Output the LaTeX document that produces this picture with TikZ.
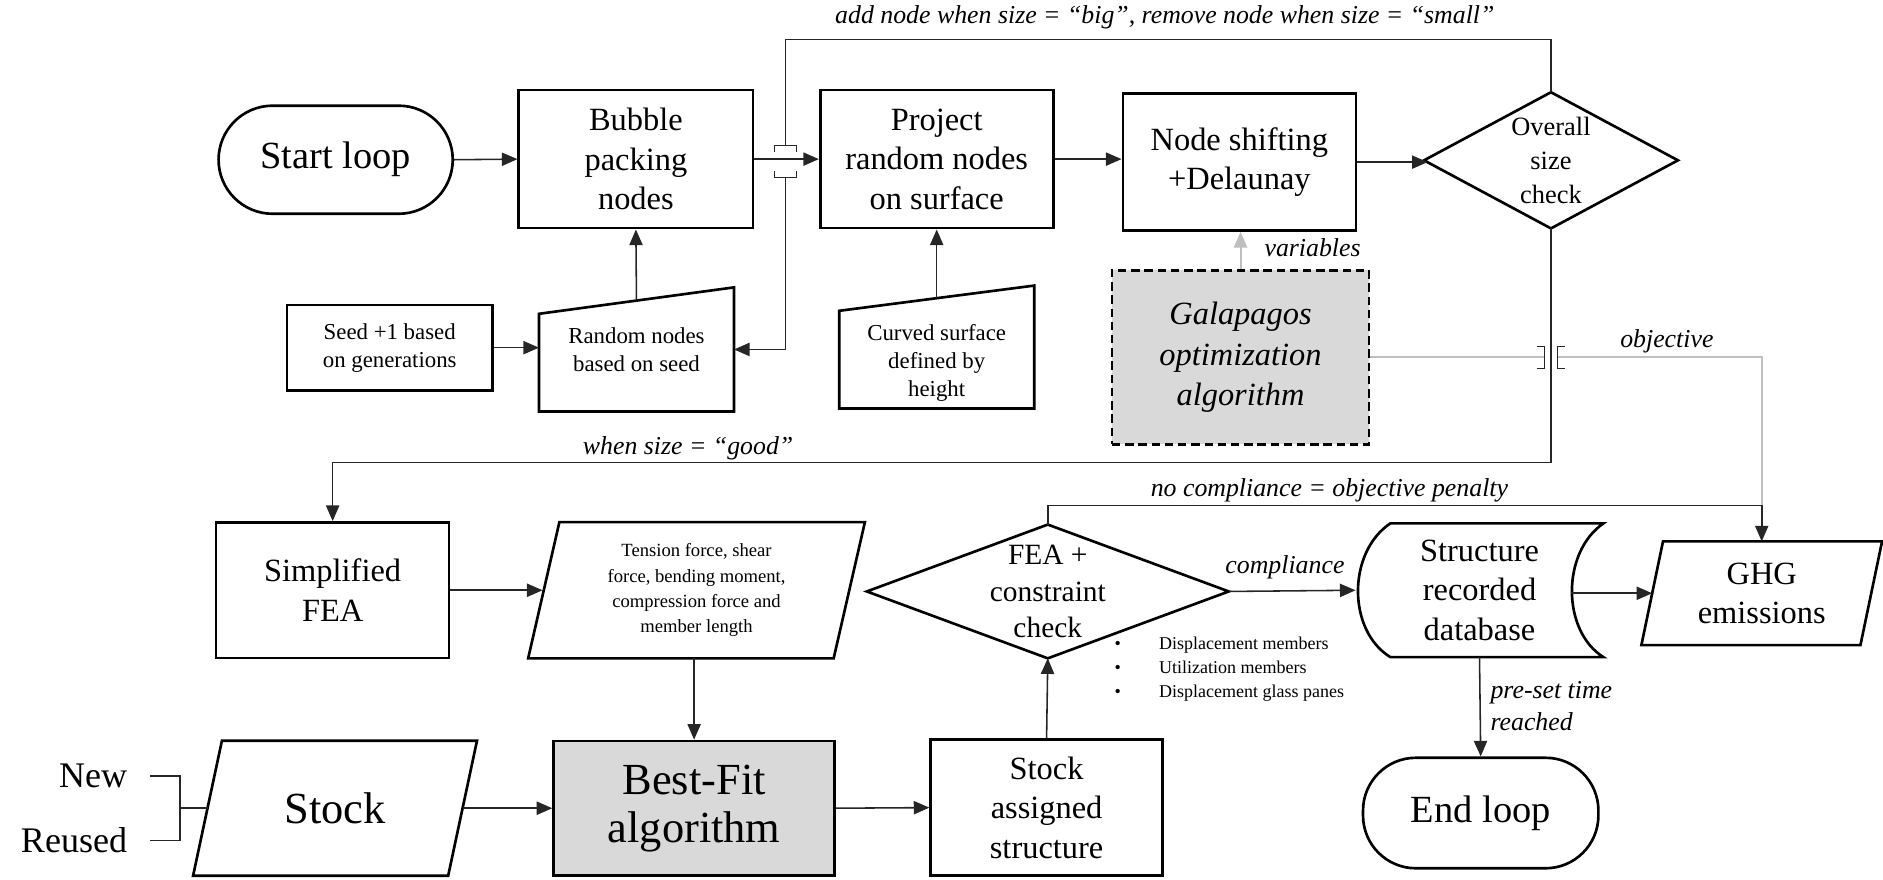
\documentclass[tikz,border=0pt]{standalone}
\usepackage{fontspec}
\setmainfont{Liberation Serif}
\usetikzlibrary{arrows.meta,calc}
\definecolor{boxgray}{HTML}{D9D9D9}
\definecolor{linegray}{HTML}{BFBFBF}
% parallelogram drawn round a named node: #1 node, #2 slant
\newcommand\paral[2]{\draw[shp] ([xshift=#2pt]#1.north west) -- (#1.north east) -- ([xshift=-#2pt]#1.south east) -- (#1.south west) -- cycle;}
\begin{document}
\begin{tikzpicture}[x=1pt,y=-1pt,
  shp/.style={draw=black, line width=2.2pt},
  box/.style={shp, align=center, inner sep=0pt},
  txt/.style={align=center, inner sep=0pt},
  con/.style={draw=black!85, line width=1.3pt},
  thin/.style={draw=black!85, line width=0.9pt},
  arr/.style={con, -{Triangle[length=13pt,width=11pt]}},
  gcon/.style={draw=linegray, line width=1.6pt},
  garr/.style={gcon, -{Triangle[length=13pt,width=11pt]}},
  fstart/.style={font=\fontsize{32}{38}\selectfont},
  fbig/.style={font=\fontsize{37}{40}\selectfont},
  fmed/.style={font=\fontsize{27}{33}\selectfont},
  fosc/.style={font=\fontsize{22}{28.5}\selectfont},
  ffea/.style={font=\fontsize{24.5}{30}\selectfont},
  fgal/.style={font=\fontsize{27}{34}\selectfont\itshape},
  fsmall/.style={font=\fontsize{19}{23.5}\selectfont},
  ften/.style={font=\fontsize{15.5}{21}\selectfont},
  fbul/.style={font=\fontsize{15}{20}\selectfont},
  fnew/.style={font=\fontsize{30}{36}\selectfont},
  lab/.style={inner sep=0pt, font=\fontsize{21.5}{26}\selectfont\itshape},
]
\useasboundingbox (0,0) rectangle (1568,732);

% ---------- upper row ----------
\node[box, rounded corners=45pt, minimum width=195pt, minimum height=90pt, fstart] (start) at (279.5,133) {Start loop};
\node[box, minimum width=195pt, minimum height=115pt, fmed] (bub) at (529.5,132.5) {Bubble\\packing\\nodes};
\node[box, minimum width=194pt, minimum height=115pt, fmed] (proj) at (780,132.5) {Project\\random nodes\\on surface};
\node[box, minimum width=194pt, minimum height=114pt, fmed] (nsh) at (1032,135) {Node shifting\\+Delaunay};
\node[txt, minimum width=211pt, minimum height=113pt, fosc] (osc) at (1291.5,133.5) {Overall\\size\\check};
\draw[shp] (osc.north) -- (osc.east) -- (osc.south) -- (osc.west) -- cycle;

% ---------- inputs ----------
\node[box, minimum width=171pt, minimum height=71pt, fsmall] (seed) at (324.5,289.5) {Seed +1 based\\on generations};
\node[txt, minimum width=162pt, minimum height=103pt, fsmall] (rnd) at (530,291) {Random nodes\\based on seed};
\draw[shp] ([yshift=-22pt]rnd.north west) -- (rnd.north east) -- (rnd.south east) -- (rnd.south west) -- cycle;
\node[txt, minimum width=162pt, minimum height=76pt, fsmall] (curv) at (780,302) {Curved surface\\defined by\\height};
\draw[shp] ([yshift=5pt]curv.north west) -- ([yshift=26pt]curv.north east) -- (curv.south east) -- (curv.south west) -- cycle;
\coordinate (curvtop) at ($(curv.north)+(0,-15.5)$);
\node[box, dash pattern=on 7pt off 4pt, fill=boxgray, minimum width=214pt, minimum height=145pt, fgal] (gal) at (1033,297.5) {Galapagos\\optimization\\algorithm};

% ---------- lower rows ----------
\node[box, minimum width=194pt, minimum height=113pt, fmed] (sfea) at (277,491.5) {Simplified\\FEA};
\node[txt, minimum width=280pt, minimum height=113pt, ften] (ten) at (580,491.5) {Tension force, shear\\force, bending moment,\\compression force and\\member length};
\paral{ten}{26}
\node[txt, minimum width=236pt, minimum height=112pt, fbig] (stock) at (279,673) {Stock};
\paral{stock}{24}
\node[box, fill=boxgray, minimum width=234pt, minimum height=112pt, fbig] (bfit) at (578,673) {Best-Fit\\algorithm};
\node[box, minimum width=193pt, minimum height=113pt, fmed] (sas) at (871.5,672.5) {Stock\\assigned\\structure};
\node[txt, minimum width=301pt, minimum height=111pt, ffea] (fea) at (872.5,492.5) {FEA +\\constraint\\check};
\draw[shp] (fea.north) -- (fea.east) -- (fea.south) -- (fea.west) -- cycle;
\node[txt, minimum width=206pt, minimum height=111pt, fmed] (db) at (1232,491.5) {Structure\\recorded\\database};
\draw[shp] ($(db.north west)+(29,0)$) -- (db.north east)
  .. controls ($(db.north east)+(-35,24)$) and ($(db.south east)+(-35,-22)$) .. (db.south east)
  -- ($(db.south west)+(29,0)$)
  .. controls ($(db.south west)+(-7,-22)$) and ($(db.north west)+(-7,24)$) .. cycle;
\node[txt, minimum width=200pt, minimum height=86pt, fmed] (ghg) at (1467,494) {GHG\\emissions};
\paral{ghg}{18}
\node[box, rounded corners=44pt, minimum width=196pt, minimum height=92pt, fstart] (endl) at (1233,677) {End loop};

% ---------- stock sources ----------
\node[txt, fnew, anchor=east] (new) at (106,646) {New};
\node[txt, fnew, anchor=east] (reused) at (106,700) {Reused};
\coordinate (brk) at (150,673);
\draw[con] ([xshift=19pt]new.east) -| (brk) |- ([xshift=19pt]reused.east);
\draw[con] (brk) -- ([xshift=12pt]stock.west);

% ---------- constraint list ----------
\node[txt, align=left, anchor=north west, fbul] (cons) at (928,530) {\makebox[37pt][l]{•}Displacement members\\\makebox[37pt][l]{•}Utilization members\\\makebox[37pt][l]{•}Displacement glass panes};

% ---------- connectors ----------
\draw[arr] (start.east) -- (bub.west);
\draw[arr] (bub.east) -- (proj.west);
\draw[arr] (proj.east) -- (proj.east -| nsh.west);
\draw[arr] (nsh.east) -- ($(osc.west)+(3,1.5)$);
\draw[arr] (seed.east) -- (seed.east -| rnd.west);
\draw[arr] ($(rnd.north)+(0,11)$) -- (bub.south);
\draw[arr] (curvtop) -- (proj.south);
\draw[garr] (gal.north) -- (gal.north |- nsh.south);

% size loop with a line jump over the packing arrow
\draw[con] (osc.north) -- ++(0,-44) -| (654,121.5);
\draw[thin] (645,126.5) -- (645,121.5) -- (663,121.5) -- (663,126.5);
\draw[thin] (645,142.5) -- (645,147.5) -- (663,147.5) -- (663,142.5);
\draw[arr] (654,147.5) |- (rnd.east);
\node[lab] (lbloop) at (970,14) {add node when size = “big”, remove node when size = “small”};

\draw[arr] (osc.south) -- ++(0,195) -| (sfea.north);
\node[lab] (lbgood) at (573,373) {when size = “good”};

% objective line with a line jump over the size line
\draw[gcon] (gal.east) -- (1286,297.5);
\draw[thin] (1280,288.5) -- (1286,288.5) -- (1286,306.5) -- (1280,306.5);
\draw[thin] (1303,288.5) -- (1297,288.5) -- (1297,306.5) -- (1303,306.5);
\draw[gcon] (1297,297.5) -| ($(ghg.north)+(0,-30)$);
\node[lab] (lbvar) at (1093,206) {variables};
\node[lab] (lbobj) at (1388,284) {objective};

\draw[arr] (sfea.east) -- ([xshift=12pt]sfea.east -| ten.west);
\draw[arr] (ten.south -| bfit.north) -- (bfit.north);
\draw[arr] ([xshift=-12pt]stock.east) -- (bfit.west);
\draw[arr] (bfit.east) -- (sas.west);
\draw[arr] (sas.north) -- (fea.south);
\draw[arr] (fea.east) -- (db.west);
\node[lab] (lbcomp) at (1070,472) {compliance};
\draw[arr] (fea.north) -- ++(0,-16) -| (ghg.north);
\node[lab] (lbpen) at (1107,408) {no compliance = objective penalty};
\draw[arr] ([xshift=-27pt]db.east |- ghg.west) -- ([xshift=9pt]ghg.west);
\draw[arr] (db.south) -- (endl.north);
\node[lab, align=left, anchor=west] (lbtime) at (1241,588) {pre-set time\\reached};
\end{tikzpicture}
\end{document}
